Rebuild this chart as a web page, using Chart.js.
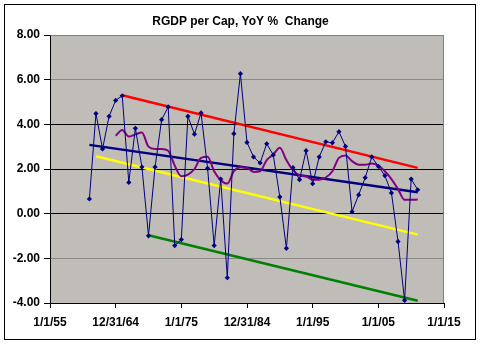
<!DOCTYPE html>
<html><head><meta charset="utf-8">
<script src="https://cdn.jsdelivr.net/npm/chart.js@4.4.0/dist/chart.umd.min.js"></script>
<style>html,body{margin:0;padding:0;background:#fff}#wrap{width:481px;height:344px}</style>
</head><body><div id="wrap"><canvas id="c" width="481" height="344"></canvas></div>
<script>
const years = [1961,1962,1963,1964,1965,1966,1967,1968,1969,1970,1971,1972,1973,1974,1975,1976,1977,1978,1979,1980,
  1981,1982,1983,1984,1985,1986,1987,1988,1989,1990,1991,1992,1993,1994,1995,1996,1997,1998,1999,2000,
  2001,2002,2003,2004,2005,2006,2007,2008,2009,2010,2011];
const rgdpChange = [0.66,4.48,2.90,4.36,5.07,5.28,1.40,3.82,2.09,-0.99,2.09,4.21,4.78,-1.43,-1.16,4.36,3.56,4.51,2.03,-1.43,
  1.55,-2.87,3.58,6.27,3.19,2.54,2.27,3.13,2.63,0.75,-1.55,2.06,1.52,2.82,1.34,2.54,3.22,3.17,3.67,3.01,
  0.09,0.84,1.61,2.54,2.12,1.70,0.93,-1.25,-3.88,1.55,1.07];
const smoothYears = [1965,1966,1967,1968,1969,1970,1971,1972,1973,1974,1975,1976,1977,1978,1979,1980,
  1981,1982,1983,1984,1985,1986,1987,1988,1989,1990,1991,1992,1993,1994,1995,1996,1997,1998,1999,2000,
  2001,2002,2003,2004,2005,2006,2007,2008,2009,2010,2011];
const smoothValues = [3.49,3.75,3.45,3.55,3.63,3.00,2.90,2.90,2.82,2.15,1.67,1.75,2.00,2.50,2.55,1.90,
  1.50,1.35,1.90,2.08,2.05,1.87,1.90,2.40,2.65,2.95,2.40,1.95,1.72,1.67,1.52,1.52,1.62,1.90,2.50,2.60,
  2.35,2.19,2.19,2.25,2.15,1.90,1.55,1.10,0.62,0.62,0.63];
const upperTrendYears = [1966, 2011];
const upperTrendValues = [5.30, 2.05];
const midTrendYears = [1961, 2011];
const midTrendValues = [3.08, 0.96];
const yellowTrendYears = [1962, 2011];
const yellowTrendValues = [2.57, -0.94];
const lowerTrendYears = [1970, 2011];
const lowerTrendValues = [-0.97, -3.90];
const xTickValues = [1955,1965,1975,1985,1995,2005,2015];
const xTickLabels = ['1/1/55','12/31/64','1/1/75','12/31/84','1/1/95','1/1/05','1/1/15'];
const yTickValues = [-4,-2,0,2,4,6,8];
const yTickLabels = ['-4.00','-2.00','0.00','2.00','4.00','6.00','8.00'];

const pts = (xs, ys) => xs.map((x, i) => ({x: x, y: ys[i]}));
const FONT = '"Liberation Sans", Arial, sans-serif';

const framePlugin = {
  id: 'frame',
  beforeDraw(chart) {
    const {ctx, chartArea: a} = chart;
    ctx.save();
    ctx.fillStyle = '#fff';
    ctx.fillRect(0, 0, chart.width, chart.height);
    ctx.fillStyle = '#c0bcb8';
    ctx.fillRect(a.left, a.top, a.right - a.left, a.bottom - a.top);
    ctx.strokeStyle = '#000';
    ctx.lineWidth = 1;
    ctx.strokeRect(4.5, 4.5, 471, 335);
    ctx.restore();
  },
  beforeDatasetsDraw(chart) {
    const {ctx, chartArea: a} = chart;
    ctx.save();
    ctx.strokeStyle = '#808080';
    ctx.lineWidth = 1;
    ctx.beginPath();
    ctx.moveTo(Math.round(a.left) + 0.5, Math.round(a.top) + 0.5);
    ctx.lineTo(Math.round(a.right) - 0.5, Math.round(a.top) + 0.5);
    ctx.lineTo(Math.round(a.right) - 0.5, Math.round(a.bottom));
    ctx.stroke();
    ctx.restore();
  }
};

new Chart(document.getElementById('c'), {
  type: 'line',
  data: {
    datasets: [
      {
        label: 'RGDP per Cap YoY %',
        data: pts(years, rgdpChange),
        borderColor: '#000080', backgroundColor: '#000080',
        borderWidth: 1, pointStyle: 'rectRot', pointRadius: 2.6,
        pointBorderWidth: 0, tension: 0
      },
      {
        label: 'Smoothed',
        data: pts(smoothYears, smoothValues),
        borderColor: '#800080', borderWidth: 2, pointRadius: 0, tension: 0.4,
        cubicInterpolationMode: 'monotone'
      },
      {
        label: 'Upper', data: pts(upperTrendYears, upperTrendValues),
        borderColor: '#ff0000', borderWidth: 2.5, pointRadius: 0
      },
      {
        label: 'Trend', data: pts(midTrendYears, midTrendValues),
        borderColor: '#000080', borderWidth: 2.5, pointRadius: 0
      },
      {
        label: 'Lower1', data: pts(yellowTrendYears, yellowTrendValues),
        borderColor: '#ffff00', borderWidth: 2.5, pointRadius: 0
      },
      {
        label: 'Lower2', data: pts(lowerTrendYears, lowerTrendValues),
        borderColor: '#008000', borderWidth: 2.5, pointRadius: 0
      }
    ]
  },
  options: {
    responsive: false,
    animation: false,
    devicePixelRatio: 1,
    layout: {padding: {left: 0, right: 0, top: 0, bottom: 0}},
    plugins: {
      legend: {display: false},
      tooltip: {enabled: false},
      title: {
        display: true,
        text: 'RGDP per Cap, YoY %  Change',
        color: '#000',
        font: {family: FONT, size: 12, weight: 'bold', lineHeight: 1.2},
        padding: {top: 14.5, bottom: 6.1}
      }
    },
    scales: {
      x: {
        type: 'linear', min: 1955, max: 2015,
        afterFit(s) { s.height = 41; s.paddingRight = 37; },
        afterBuildTicks(s) { s.ticks = xTickValues.map(v => ({value: v})); },
        ticks: {
          autoSkip: false, maxRotation: 0, minRotation: 0, padding: 7,
          color: '#000', font: {family: FONT, size: 12, weight: 'bold'},
          callback: (v) => xTickLabels[xTickValues.indexOf(v)]
        },
        grid: {drawOnChartArea: false, drawTicks: true, tickLength: 5, tickColor: '#000'},
        border: {color: '#000', width: 1}
      },
      y: {
        min: -4, max: 8,
        afterFit(s) { s.width = 50; },
        afterBuildTicks(s) { s.ticks = yTickValues.map(v => ({value: v})); },
        ticks: {
          padding: 4, color: '#000', font: {family: FONT, size: 12, weight: 'bold'},
          callback: (v) => yTickLabels[yTickValues.indexOf(v)]
        },
        grid: {
          drawTicks: true, tickLength: 6, tickColor: '#000', lineWidth: 1,
          color: (c) => {
            const v = c.tick ? c.tick.value : null;
            if (v === 8 || v === -4) return 'rgba(0,0,0,0)';
            if (v === 6 || v === -2) return '#8a8a8a';
            return '#000';
          }
        },
        border: {color: '#000', width: 1}
      }
    }
  },
  plugins: [framePlugin]
});
</script>
</body></html>
